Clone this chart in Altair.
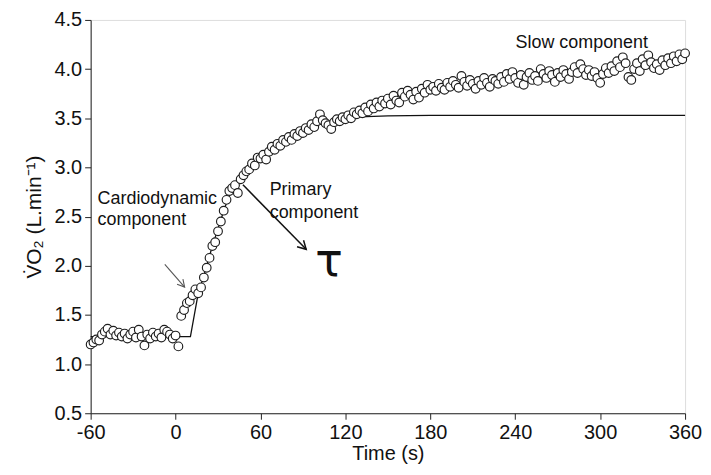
import altair as alt
import pandas as pd

# ---- data ----
time_s = [
    -60, -58, -56, -54, -52, -50, -48, -46, -44, -42, -40, -38, -36, -34, -32, -30,
    -28, -26, -24, -22, -20, -18, -16, -14, -12, -10, -8, -6, -4, -2, 0, 2,
    4, 6, 8, 10, 12, 14, 16, 18, 20, 22, 24, 26, 28, 30, 32, 34,
    36, 38, 40, 42, 44, 46, 48, 50, 52, 54, 56, 58, 60, 62, 64, 66,
    68, 70, 72, 74, 76, 78, 80, 82, 84, 86, 88, 90, 92, 94, 96, 98,
    100, 102, 104, 106, 108, 110, 112, 114, 116, 118, 120, 122, 124, 126, 128, 130,
    132, 134, 136, 138, 140, 142, 144, 146, 148, 150, 152, 154, 156, 158, 160, 162,
    164, 166, 168, 170, 172, 174, 176, 178, 180, 182, 184, 186, 188, 190, 192, 194,
    196, 198, 200, 202, 204, 206, 208, 210, 212, 214, 216, 218, 220, 222, 224, 226,
    228, 230, 232, 234, 236, 238, 240, 242, 244, 246, 248, 250, 252, 254, 256, 258,
    260, 262, 264, 266, 268, 270, 272, 274, 276, 278, 280, 282, 284, 286, 288, 290,
    292, 294, 296, 298, 300, 302, 304, 306, 308, 310, 312, 314, 316, 318, 320, 322,
    324, 326, 328, 330, 332, 334, 336, 338, 340, 342, 344, 346, 348, 350, 352, 354,
    356, 358, 360,
]
vo2 = [
    1.20, 1.22, 1.25, 1.24, 1.30, 1.33, 1.36, 1.30, 1.34, 1.29, 1.32, 1.28, 1.31, 1.26, 1.30, 1.33,
    1.27, 1.35, 1.28, 1.19, 1.30, 1.26, 1.32, 1.28, 1.31, 1.27, 1.35, 1.33, 1.30, 1.26, 1.29, 1.18,
    1.49, 1.55, 1.62, 1.64, 1.70, 1.76, 1.72, 1.78, 1.88, 1.98, 2.08, 2.20, 2.24, 2.35, 2.45, 2.56,
    2.67, 2.76, 2.79, 2.82, 2.74, 2.88, 2.92, 2.96, 2.98, 3.04, 3.02, 3.10, 3.09, 3.13, 3.08, 3.16,
    3.21, 3.18, 3.24, 3.22, 3.28, 3.26, 3.31, 3.28, 3.34, 3.32, 3.37, 3.35, 3.40, 3.38, 3.44, 3.41,
    3.47, 3.54, 3.48, 3.45, 3.43, 3.39, 3.46, 3.49, 3.47, 3.51, 3.49, 3.53, 3.50, 3.56, 3.54, 3.58,
    3.55, 3.61, 3.57, 3.64, 3.60, 3.66, 3.62, 3.68, 3.65, 3.70, 3.64, 3.73, 3.68, 3.66, 3.76, 3.72,
    3.78, 3.74, 3.69, 3.77, 3.71, 3.80, 3.76, 3.84, 3.79, 3.82, 3.78, 3.85, 3.81, 3.79, 3.86, 3.82,
    3.88, 3.84, 3.81, 3.93, 3.87, 3.83, 3.89, 3.85, 3.80, 3.88, 3.84, 3.91, 3.86, 3.82, 3.90, 3.88,
    3.85, 3.92, 3.87, 3.95, 3.90, 3.97, 3.91, 3.86, 3.94, 3.84, 3.92, 3.96, 3.89, 3.93, 3.88, 4.00,
    3.95, 3.91, 3.98, 3.94, 3.87, 3.96, 3.92, 3.99, 3.95, 3.90, 3.97, 4.02, 3.96, 4.05, 4.00, 3.94,
    3.99, 3.93, 3.97, 3.91, 3.86, 3.95, 4.01, 3.96, 4.03, 3.98, 4.08, 4.02, 4.12, 4.06, 3.92, 3.89,
    4.00, 4.06, 3.98, 4.10, 4.04, 4.14, 4.07, 4.01, 4.05, 3.99, 4.09, 4.04, 4.11, 4.06, 4.13, 4.08,
    4.15, 4.10, 4.16,
]

# model fit line
fit_time = [-60, 10.5, 16, 20, 25, 30, 35, 40, 45, 50, 60, 70, 80, 90, 100, 110, 120, 130, 150, 180, 360]
fit_vo2 = [1.28, 1.28, 1.72, 1.90, 2.15, 2.38, 2.60, 2.78, 2.88, 2.96, 3.10, 3.21, 3.30, 3.37, 3.43,
           3.47, 3.50, 3.515, 3.525, 3.53, 3.53]

x_ticks = [-60, 0, 60, 120, 180, 240, 300, 360]
y_ticks = [0.5, 1.0, 1.5, 2.0, 2.5, 3.0, 3.5, 4.0, 4.5]

pts = pd.DataFrame({"t": time_s, "v": vo2})
fit = pd.DataFrame({"t": fit_time, "v": fit_vo2})
one = pd.DataFrame({"k": [0]})  # single row for annotation layers

FONT = "Liberation Sans, Arial, Helvetica, sans-serif"

xscale = alt.Scale(domain=[-60, 360], nice=False, zero=False)
yscale = alt.Scale(domain=[0.5, 4.5], nice=False, zero=False)

xaxis = alt.Axis(values=x_ticks, title="Time (s)", grid=False, tickSize=6, labelPadding=3,
                 titlePadding=1, labelFontSize=20, titleFontSize=20, labelFont=FONT,
                 titleFont=FONT, titleFontWeight="normal", domainColor="#222",
                 tickColor="#222", labelColor="#111", titleColor="#111", labelFlush=False,
                 labelExpr="toString(datum.value)")
yaxis = alt.Axis(values=y_ticks, format=".1f", title="V\u0307O\u2082 (L.min\u207b\u00b9)",
                 grid=False, tickSize=6, labelPadding=3, titlePadding=10, labelFontSize=20,
                 titleFontSize=21, labelFont=FONT, titleFont=FONT, titleFontWeight="normal",
                 domainColor="#222", tickColor="#222", labelColor="#111", titleColor="#111",
                 labelFlush=False)

line = alt.Chart(fit).mark_line(color="#111", strokeWidth=1.3).encode(
    x=alt.X("t:Q", scale=xscale, axis=xaxis),
    y=alt.Y("v:Q", scale=yscale, axis=yaxis),
)

points = alt.Chart(pts).mark_circle(size=76, fill="white", stroke="#1e1e1e",
                                      strokeWidth=1.15, opacity=1).encode(
    x=alt.X("t:Q", scale=xscale),
    y=alt.Y("v:Q", scale=yscale),
)

def label(txt, x, y, size=18, align="left", font=FONT):
    return alt.Chart(one).mark_text(text=txt, align=align, baseline="middle", fontSize=size,
                                    font=font, color="#111").encode(
        x=alt.datum(x), y=alt.datum(y))

def arrow(x1, y1, x2, y2, angle, color, head, width):
    seg = alt.Chart(one).mark_rule(color=color, strokeWidth=width).encode(
        x=alt.datum(x1), y=alt.datum(y1), x2=alt.datum(x2), y2=alt.datum(y2))
    tip = alt.Chart(one).mark_point(shape="M -0.55 1 L 0 0 L 0.55 1", filled=False,
                                    stroke=color, strokeWidth=width, size=head, angle=angle,
                                    opacity=1).encode(x=alt.datum(x2), y=alt.datum(y2))
    return seg + tip

chart = alt.layer(
    line,
    points,
    label("Cardiodynamic", -55.1, 2.68),
    label("component", -55.1, 2.47),
    label("Primary", 66.5, 2.77),
    label("component", 66.5, 2.54),
    label("Slow component", 287, 4.27, align="center"),
    label("\u03c4", 108.5, 2.04, size=46, align="center", font="DejaVu Sans, Open Sans, sans-serif"),
    arrow(-7.6, 2.015, 6.4, 1.783, 139, "#555", 200, 1.1),
    arrow(47.6, 2.823, 92.3, 2.167, 135, "#111", 280, 1.5),
).properties(
    width=597, height=395,
    autosize=alt.AutoSizeParams(type="none"),
    padding={"left": 83, "top": 11, "right": 18, "bottom": 53},
).configure_view(stroke=None).configure(background="white")

chart.save("out.html", embed_options={"renderer": "svg", "actions": False})
